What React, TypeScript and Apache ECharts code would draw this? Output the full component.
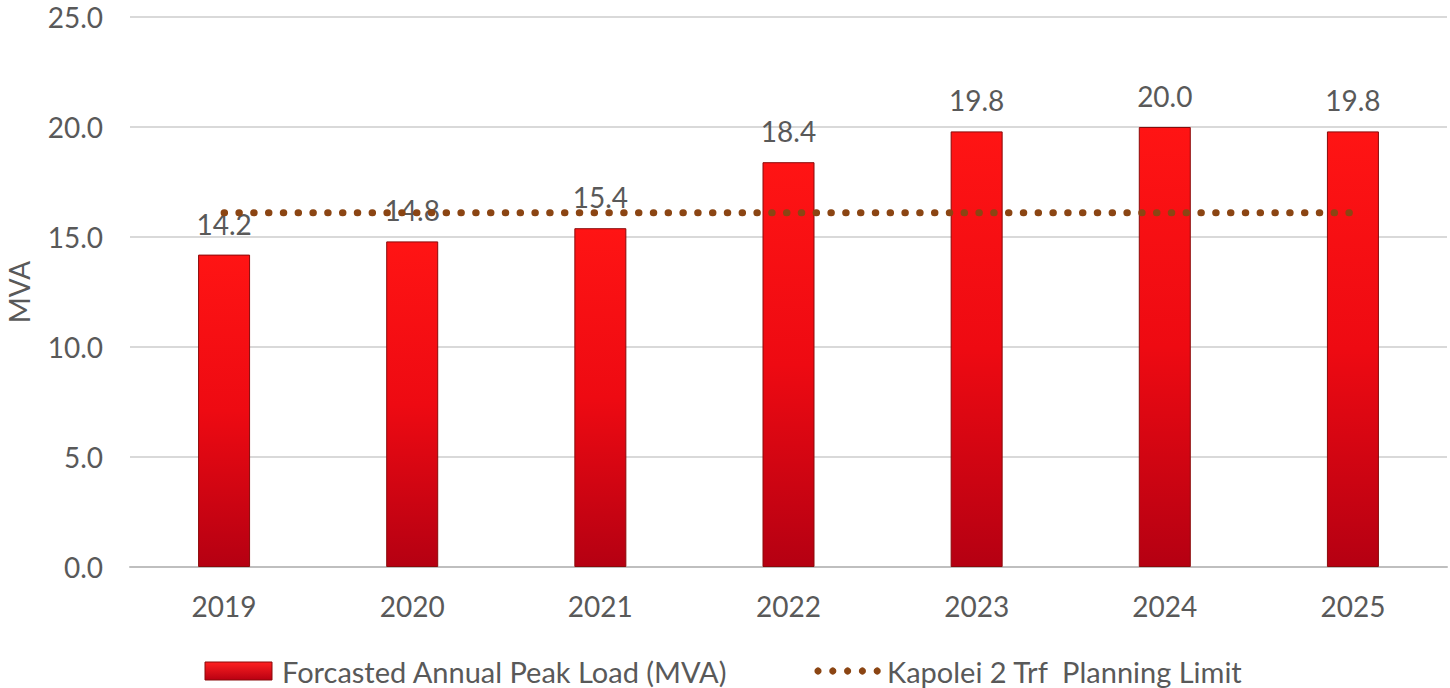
import React, { useEffect, useRef } from "react";
import * as echarts from "echarts";

const years = ["2019", "2020", "2021", "2022", "2023", "2024", "2025"];
const peakLoad = [14.2, 14.8, 15.4, 18.4, 19.8, 20.0, 19.8];
const planningLimit = [16.1, 16.1, 16.1, 16.1, 16.1, 16.1, 16.1];
const barName = "Forcasted Annual Peak Load (MVA)";
const lineName = "Kapolei 2 Trf  Planning Limit";

const FONT = "Lato";
const TXT = "#595959";
const FS = 28;
const BROWN = "#8b4513";

export default function App() {
  const ref = useRef<HTMLDivElement>(null);
  useEffect(() => {
    if (!ref.current) return;
    const chart = echarts.init(ref.current, undefined, { renderer: "svg" });
    const barGrad = new echarts.graphic.LinearGradient(0, 0, 0, 1, [
      { offset: 0, color: "#ff1414" },
      { offset: 0.5, color: "#ee0a12" },
      { offset: 1, color: "#b50012" },
    ]);
    const dots = [0, 1, 2, 3, 4].map((i) => ({
      type: "circle",
      shape: { cx: 818 + i * 14.8, cy: 671, r: 3.6 },
      style: { fill: BROWN },
    }));
    chart.setOption({
      animation: false,
      textStyle: { fontFamily: FONT },
      grid: {
        left: 130,
        right: 3,
        top: 17,
        bottom: 121,
        containLabel: false,
        outerBoundsMode: "none",
      },
      graphic: [
        {
          type: "rect",
          shape: { x: 205, y: 662, width: 67, height: 18 },
          style: {
            fill: new echarts.graphic.LinearGradient(0, 0, 0, 1, [
              { offset: 0, color: "#ff2020" },
              { offset: 1, color: "#b80012" },
            ]),
            stroke: "#8a0a0a",
            lineWidth: 1,
          },
        },
        {
          type: "text",
          x: 282,
          y: 671,
          style: {
            text: barName,
            font: `29px ${FONT}`,
            fill: TXT,
            verticalAlign: "middle",
          },
        },
        ...dots,
        {
          type: "text",
          x: 887,
          y: 671,
          style: {
            text: lineName,
            font: `29px ${FONT}`,
            fill: TXT,
            verticalAlign: "middle",
          },
        },
      ],
      xAxis: {
        type: "category",
        data: years,
        axisTick: { show: false },
        axisLine: { lineStyle: { color: "#bfbfbf", width: 2 } },
        axisLabel: { color: TXT, fontSize: FS, fontFamily: FONT, margin: 25 },
      },
      yAxis: {
        type: "value",
        min: 0,
        max: 25,
        interval: 5,
        name: "MVA",
        nameLocation: "middle",
        nameGap: 97,
        nameMoveOverlap: false,
        nameTextStyle: { color: TXT, fontSize: FS, fontFamily: FONT },
        axisLabel: {
          color: TXT,
          fontSize: FS,
          fontFamily: FONT,
          margin: 27,
          formatter: (v: number) => v.toFixed(1),
        },
        splitLine: { lineStyle: { color: "#d9d9d9", width: 2 } },
      },
      series: [
        {
          name: barName,
          type: "bar",
          data: peakLoad,
          barWidth: 52,
          itemStyle: {
            color: barGrad,
            borderColor: "#8a0a0a",
            borderWidth: 1,
          },
          label: {
            show: true,
            position: "top",
            distance: 17,
            color: TXT,
            fontSize: FS,
            fontFamily: FONT,
            formatter: (p: any) => Number(p.value).toFixed(1),
          },
          z: 2,
        },
        {
          name: lineName,
          type: "line",
          data: planningLimit,
          symbol: "none",
          color: BROWN,
          lineStyle: {
            color: BROWN,
            width: 7,
            type: [0.5, 14.3],
            cap: "round",
          },
          z: 3,
        },
      ],
    });
    return () => chart.dispose();
  }, []);
  return <div ref={ref} style={{ width: 1450, height: 688, position: "absolute", left: 0, top: 0 }} />;
}
